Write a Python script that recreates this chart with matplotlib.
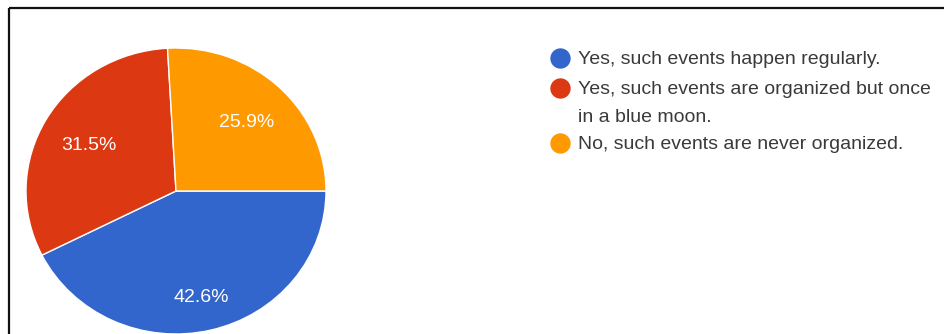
import numpy as np
import matplotlib.pyplot as plt
from matplotlib.patches import Rectangle

# Data
labels = [
    "Yes, such events happen regularly.",
    "Yes, such events are organized but once\nin a blue moon.",
    "No, such events are never organized.",
]
shares = [42.6, 31.5, 25.9]
colors = ["#3366CC", "#DC3912", "#FF9900"]

plt.rcParams["font.family"] = ["Liberation Sans", "DejaVu Sans"]

W, H = 944, 334
fig = plt.figure(figsize=(W / 100, H / 100), dpi=100)

# overlay in pixel coords for frame + legend
bg = fig.add_axes([0, 0, 1, 1])
bg.set_xlim(0, W)
bg.set_ylim(H, 0)
bg.axis("off")
bg.add_patch(Rectangle((9, 8), W + 20, H + 20, fill=False,
                       edgecolor="#111111", linewidth=1.6))

# pie (slightly squashed vertically like the screenshot)
cx, cy, rx, ry = 176, 191, 150, 143
ax = fig.add_axes([(cx - rx) / W, (H - cy - ry) / H, 2 * rx / W, 2 * ry / H])
wedges, texts, autotexts = ax.pie(
    shares, colors=colors, startangle=0, counterclock=False,
    autopct="%.1f%%", pctdistance=0.72,
    wedgeprops=dict(edgecolor="white", linewidth=1),
    textprops=dict(color="white", fontsize=14),
)
ax.set_aspect("auto")
ax.set_xlim(-1, 1)
ax.set_ylim(-1, 1)

# label distances as in the screenshot
dists = [0.745, 0.67, 0.685]
for w, t, d in zip(wedges, autotexts, dists):
    a = np.deg2rad((w.theta1 + w.theta2) / 2)
    t.set_position((d * np.cos(a), d * np.sin(a) - 0.018))

# legend
ys = [58, 88, 143]
for lab, col, y in zip(labels, colors, ys):
    bg.scatter([560], [y], s=215, color=col, zorder=3, linewidths=0)
    for i, line in enumerate(lab.split("\n")):
        bg.text(578, y + 6 + i * 28, line, fontsize=14, color="#3a3a3a",
                va="baseline", ha="left")

fig.savefig("out.png", dpi=100)
